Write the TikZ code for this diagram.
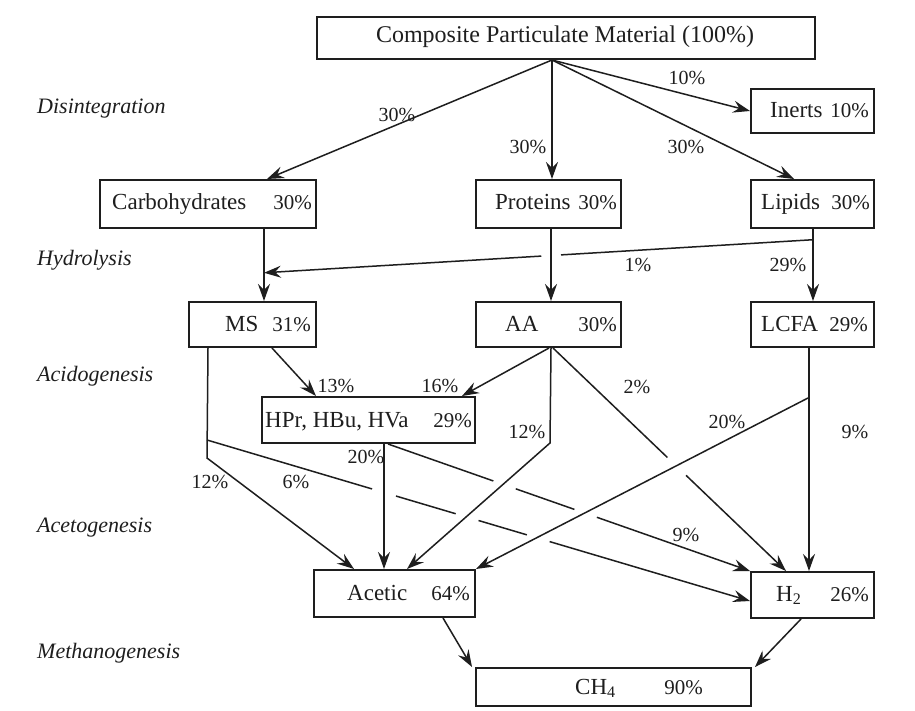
\documentclass[tikz,border=0pt]{standalone}
\usepackage{fontspec}
\setmainfont{Liberation Serif}
\usetikzlibrary{arrows.meta,calc}
\definecolor{ink}{HTML}{1E1E1E}
\begin{document}
\begin{tikzpicture}[x=1pt,y=-1pt,
  box/.style={draw=ink,line width=2pt,inner sep=0pt,anchor=north west},
  nm/.style={inner sep=0pt,text=ink,font=\fontsize{23}{27}\selectfont},
  pc/.style={inner sep=0pt,text=ink,font=\fontsize{21}{25}\selectfont},
  el/.style={inner sep=0pt,text=ink,font=\fontsize{20}{24}\selectfont},
  stage/.style={inner sep=0pt,text=ink,anchor=west,font=\fontsize{22}{26}\selectfont\itshape},
  ln/.style={draw=ink,line width=1.5pt},
  arr/.style={ln,-{Stealth[length=17pt,width=12pt,inset=6pt]}},
]
\useasboundingbox[fill=white] (0,0) rectangle (915,711);

% ---------- boxes ----------
\node[box,minimum width=498pt,minimum height=42pt] (comp) at (316,16) {};
\node[box,minimum width=123pt,minimum height=44pt] (inerts) at (750,88) {};
\node[box,minimum width=216pt,minimum height=48pt] (carb) at (99,179) {};
\node[box,minimum width=145pt,minimum height=48pt] (prot) at (475,179) {};
\node[box,minimum width=123pt,minimum height=48pt] (lip) at (750,179) {};
\node[box,minimum width=127pt,minimum height=45pt] (ms) at (188,301) {};
\node[box,minimum width=145pt,minimum height=45pt] (aa) at (475,301) {};
\node[box,minimum width=123pt,minimum height=45pt] (lcfa) at (750,301) {};
\node[box,minimum width=213pt,minimum height=46pt] (hpr) at (261,396) {};
\node[box,minimum width=161pt,minimum height=47pt] (acetic) at (313,569) {};
\node[box,minimum width=123pt,minimum height=46pt] (h2) at (750,571) {};
\node[box,minimum width=275pt,minimum height=38pt] (ch4) at (475,667) {};

% ---------- box texts ----------
\node[nm,font=\fontsize{24}{28}\selectfont] (compT) at (565,37) {Composite Particulate Material (100\%)};
\node[nm,anchor=base west] (inertsT) at (770,118) {Inerts};
\node[pc,anchor=base east] (inertsP) at (869,118) {10\%};
\node[nm,anchor=base west] (carbT) at (112,210) {Carbohydrates};
\node[pc,anchor=base east] (carbP) at (312,210) {30\%};
\node[nm,anchor=base west] (protT) at (495,210) {Proteins};
\node[pc,anchor=base east] (protP) at (617,210) {30\%};
\node[nm,anchor=base west] (lipT) at (761,210) {Lipids};
\node[pc,anchor=base east] (lipP) at (870,210) {30\%};
\node[nm,anchor=base west] (msT) at (225,331) {MS};
\node[pc,anchor=base east] (msP) at (311,331) {31\%};
\node[nm,anchor=base west] (aaT) at (505,331) {AA};
\node[pc,anchor=base east] (aaP) at (617,331) {30\%};
\node[nm,anchor=base west] (lcfaT) at (761,331) {LCFA};
\node[pc,anchor=base east] (lcfaP) at (868,331) {29\%};
\node[nm,anchor=base west] (hprT) at (265,427) {HPr, HBu, HVa};
\node[pc,anchor=base east] (hprP) at (472,427) {29\%};
\node[nm,anchor=base west] (aceticT) at (347,600) {Acetic};
\node[pc,anchor=base east] (aceticP) at (470,600) {64\%};
\node[nm,anchor=base west] (h2T) at (776,601) {H\textsubscript{2}};
\node[pc,anchor=base east] (h2P) at (869,601) {26\%};
\node[nm,anchor=base west] (ch4T) at (575,694) {CH\textsubscript{4}};
\node[pc,anchor=base east] (ch4P) at (703,694) {90\%};

% ---------- stage labels ----------
\node[stage] (s1) at (37,109) {Disintegration};
\node[stage] (s2) at (37,260) {Hydrolysis};
\node[stage] (s3) at (37,376) {Acidogenesis};
\node[stage] (s4) at (37,528) {Acetogenesis};
\node[stage] (s5) at (37,653) {Methanogenesis};

% ---------- attachment points ----------
\coordinate (c0) at ([xshift=-14pt]comp.south);
\coordinate (carbN) at ([xshift=59pt]carb.north);
\coordinate (protN) at ([xshift=3.5pt]prot.north);
\coordinate (lipN) at ([xshift=-18.5pt]lip.north);
\coordinate (carbS) at ([xshift=56pt]carb.south);
\coordinate (msN) at ([xshift=11.5pt]ms.north);
\coordinate (protS) at ([xshift=2.5pt]prot.south);
\coordinate (aaN) at ([xshift=2.5pt]aa.north);
\coordinate (lipS) at ([xshift=0.5pt]lip.south);
\coordinate (lcfaN) at ([xshift=0.5pt]lcfa.north);
\coordinate (lipBr) at ($(lipS)!0.149!(lcfaN)$);
\coordinate (msIn) at ($(carbS)!0.608!(msN)$);
\coordinate (msS1) at ([xshift=19.5pt]ms.south);
\coordinate (msS2) at ([xshift=-44.5pt]ms.south);
\coordinate (msBend) at (207,458);
\coordinate (msBr) at (207,440);
\coordinate (hprN1) at ([xshift=-52.5pt]hpr.north);
\coordinate (hprN2) at ([xshift=93.5pt]hpr.north);
\coordinate (aaS1) at ([xshift=0.5pt]aa.south);
\coordinate (aaS2) at ([xshift=2.5pt]aa.south);
\coordinate (aaS3) at ([xshift=4.5pt]aa.south);
\coordinate (aaBend) at (550,443);
\coordinate (lcfaS) at ([xshift=-3.5pt]lcfa.south);
\coordinate (lcfaBr) at (808,398);
\coordinate (hprS1) at ([xshift=15.5pt]hpr.south);
\coordinate (hprS2) at ([xshift=19.5pt]hpr.south);
\coordinate (acN1) at ([xshift=-40.5pt]acetic.north);
\coordinate (acN2) at ([xshift=-10.5pt]acetic.north);
\coordinate (acN3) at ([xshift=12.5pt]acetic.north);
\coordinate (h2N1) at ([xshift=-26.5pt]h2.north);
\coordinate (h2N2) at ([xshift=-3.5pt]h2.north);
\coordinate (h2W) at ([yshift=-6pt]h2.west);
\coordinate (acS) at ([xshift=48.5pt]acetic.south);
\coordinate (h2S) at ([xshift=-11.5pt]h2.south);
\coordinate (ch4N1) at ([xshift=-3pt]ch4.north west);
\coordinate (ch4N2) at ([xshift=3pt]ch4.north east);

% ---------- connectors ----------
% disintegration
\draw[arr] (c0) -- (carbN);
\draw[arr] (c0) -- (protN);
\draw[arr] (c0) -- (lipN);
\draw[arr] (c0) -- (inerts.west);
% hydrolysis
\draw[arr] (carbS) -- (msN);
\draw[arr] (protS) -- (aaN);
\draw[arr] (lipS) -- (lcfaN);
\draw[arr] (lipBr) -- ($(lipBr)!0.459!(msIn)$) ($(lipBr)!0.495!(msIn)$) -- (msIn);
% acidogenesis
\draw[arr] (msS1) -- (hprN1);
\draw[arr] (aaS1) -- (hprN2);
\draw[arr] (aaS2) -- (aaBend) -- (acN3);
\draw[arr] (aaS3) -- ($(aaS3)!0.491!(h2N1)$) ($(aaS3)!0.571!(h2N1)$) -- (h2N1);
\draw[arr] (lcfaS) -- (h2N2);
\draw[arr] (lcfaBr) -- (acetic.north east);
% acetogenesis
\draw[arr] (msS2) -- (msBend) -- (acN1);
\draw[arr] (msBr) -- ($(msBr)!0.304!(h2W)$)
  ($(msBr)!0.348!(h2W)$) -- ($(msBr)!0.458!(h2W)$)
  ($(msBr)!0.500!(h2W)$) -- ($(msBr)!0.589!(h2W)$)
  ($(msBr)!0.631!(h2W)$) -- (h2W);
\draw[arr] (hprS1) -- (acN2);
\draw[arr] (hprS2) -- ($(hprS2)!0.291!(h2.north west)$)
  ($(hprS2)!0.353!(h2.north west)$) -- ($(hprS2)!0.515!(h2.north west)$)
  ($(hprS2)!0.577!(h2.north west)$) -- (h2.north west);
% methanogenesis
\draw[arr] (acS) -- (ch4N1);
\draw[arr] (h2S) -- (ch4N2);

% ---------- connector labels ----------
\node[el] (l1) at (397,115) {30\%};
\node[el] (l2) at (528,147) {30\%};
\node[el] (l3) at (686,147) {30\%};
\node[el] (l4) at (687,78) {10\%};
\node[el] (l5) at (638,265) {1\%};
\node[el] (l6) at (788,265) {29\%};
\node[el] (l7) at (336,386) {13\%};
\node[el] (l8) at (440,386) {16\%};
\node[el] (l9) at (527,432) {12\%};
\node[el] (l10) at (637,387) {2\%};
\node[el] (l11) at (727,422) {20\%};
\node[el] (l12) at (855,432) {9\%};
\node[el] (l13) at (366,457) {20\%};
\node[el] (l14) at (210,482) {12\%};
\node[el] (l15) at (296,482) {6\%};
\node[el] (l16) at (686,535) {9\%};
\end{tikzpicture}
\end{document}
